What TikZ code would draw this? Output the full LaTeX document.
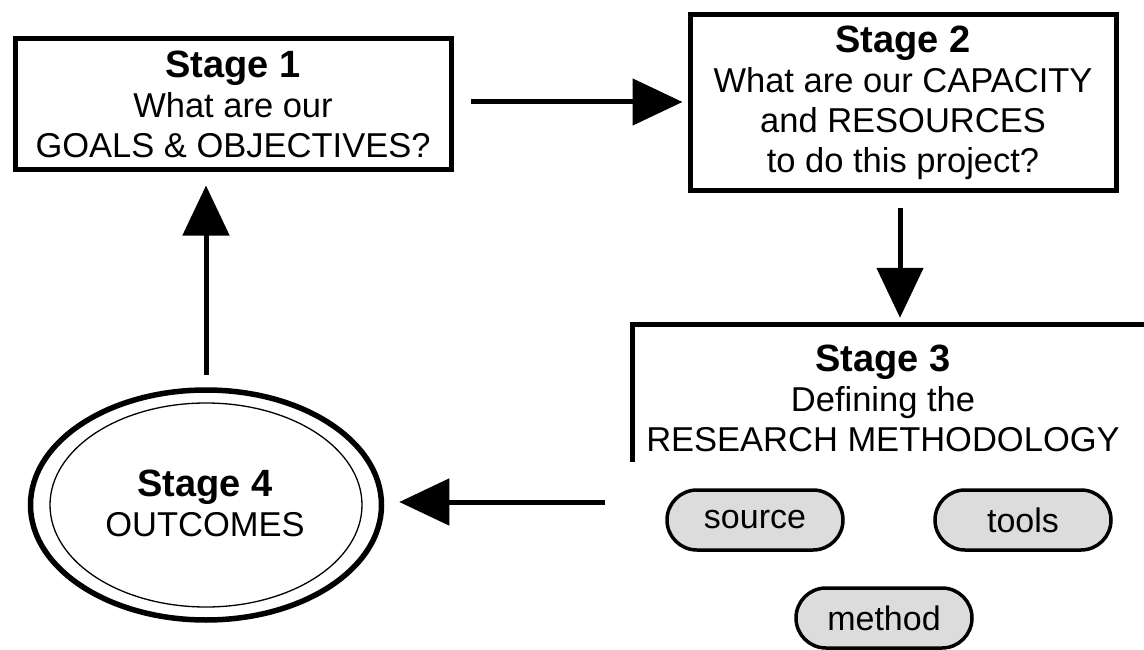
\documentclass[tikz,border=0pt]{standalone}
\usepackage{fontspec}
\setmainfont{Liberation Sans}
\usetikzlibrary{arrows.meta,shapes.geometric,shapes.misc}
\definecolor{pillgray}{HTML}{DCDCDC}
\newcommand{\stagettl}[1]{\textbf{\fontsize{38}{40}\selectfont #1}}
\begin{document}
\begin{tikzpicture}[x=1pt,y=-1pt,
  txt/.style={align=center,font=\fontsize{34.5}{40}\selectfont,inner sep=0pt},
  stagebox/.style={txt,draw,line width=5pt},
  pill/.style={rounded rectangle,draw,line width=3.5pt,fill=pillgray,
    font=\fontsize{34}{39}\selectfont,minimum height=60pt,minimum width=176pt,inner sep=0pt},
  arr/.style={line width=5pt,-{Triangle[length=50pt,width=46pt]}},
]
\useasboundingbox (0,0) rectangle (1144,650);

\node[stagebox,minimum width=436pt,minimum height=131pt] (s1) at (233,104.5)
  {\stagettl{Stage 1}\\What are our\\GOALS \& OBJECTIVES?};
\node[stagebox,minimum width=426pt,minimum height=176pt] (s2) at (903,103)
  {\stagettl{Stage 2}\\What are our CAPACITY\\and RESOURCES\\to do this project?};

\node[txt,minimum width=511pt,minimum height=137pt] (s3) at (888.5,393.5) {};
\node[txt] (s3t) at (883,398)
  {\stagettl{Stage 3}\\Defining the\\RESEARCH METHODOLOGY};
\draw[line width=5pt] (s3.south west) -- (s3.north west) -- (s3.north east);

\node[ellipse,draw,line width=5.5pt,minimum width=351pt,minimum height=230pt,inner sep=0pt] (s4) at (206,505) {};
\node[ellipse,draw,line width=1.3pt,minimum width=312pt,minimum height=204pt,inner sep=0pt] (s4in) at (206,505) {};
\node[txt] (s4t) at (205,503) {\stagettl{Stage 4}\\OUTCOMES};

\node[pill] (src) at (755,520) {source};
\node[pill] (tools) at (1023,520) {tools};
\node[pill] (meth) at (884,618) {method};

\coordinate (c3) at (605,502);

\draw[arr,shorten <=17pt,shorten >=5pt] (s1.east |- 0,102) -- (s2.west |- 0,102);
\draw[arr,shorten <=15pt,shorten >=7pt] (s2.south -| 900,0) -- (s3.north -| 900,0);
\draw[arr,shorten >=15pt] (c3) -- (s4.east |- c3);
\draw[arr,shorten <=12pt,shorten >=13pt] (s4.north) -- (s1.south -| s4.north);
\end{tikzpicture}
\end{document}
